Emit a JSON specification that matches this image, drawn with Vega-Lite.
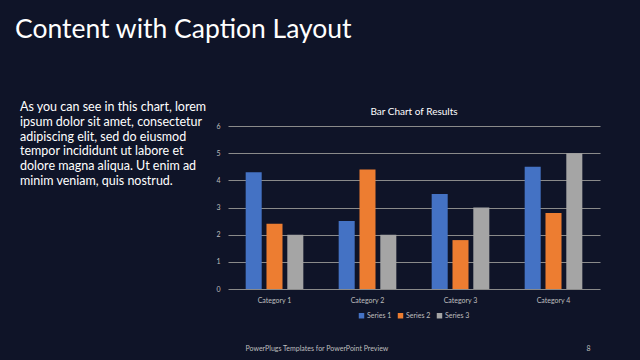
{
  "$schema": "https://vega.github.io/schema/vega-lite/v6.json",
  "background": "#0f1428",
  "padding": {"left": 15, "top": 16, "right": 45, "bottom": 10},
  "title": {"text": "Content with Caption Layout", "anchor": "start", "font": "Lato", "fontSize": 26.5, "fontWeight": "normal", "color": "#ffffff", "offset": 58},
  "spacing": 8,
  "hconcat": [
    {
      "width": 190,
      "height": 74,
      "data": {"values": [
        {"line": 1, "pos": 0, "text": "As you can see in this chart, lorem"},
        {"line": 2, "pos": 0, "text": "ipsum dolor sit amet, consectetur"},
        {"line": 3, "pos": 0, "text": "adipiscing elit, sed do eiusmod"},
        {"line": 4, "pos": 0, "text": "tempor incididunt ut labore et"},
        {"line": 5, "pos": 0, "text": "dolore magna aliqua. Ut enim ad"},
        {"line": 6, "pos": 0, "text": "minim veniam, quis nostrud."}
      ]},
      "mark": {"type": "text", "align": "left", "baseline": "middle", "font": "Lato", "fontSize": 12.5, "color": "#ffffff", "dx": 5, "dy": -19},
      "encoding": {
        "x": {"field": "pos", "type": "quantitative", "axis": null, "scale": {"domain": [0, 1]}},
        "y": {"field": "line", "type": "quantitative", "axis": null, "scale": {"domain": [1, 6], "reverse": true, "nice": false, "zero": false}},
        "text": {"field": "text"}
      }
    },
    {
      "width": 372,
      "height": 163,
      "title": {"text": "Bar Chart of Results", "font": "Lato", "fontSize": 10, "fontWeight": "normal", "color": "#ffffff", "offset": 5},
      "data": {"values": [
        {"category": "Category 1", "series": "Series 1", "value": 4.3},
        {"category": "Category 1", "series": "Series 2", "value": 2.4},
        {"category": "Category 1", "series": "Series 3", "value": 2},
        {"category": "Category 2", "series": "Series 1", "value": 2.5},
        {"category": "Category 2", "series": "Series 2", "value": 4.4},
        {"category": "Category 2", "series": "Series 3", "value": 2},
        {"category": "Category 3", "series": "Series 1", "value": 3.5},
        {"category": "Category 3", "series": "Series 2", "value": 1.8},
        {"category": "Category 3", "series": "Series 3", "value": 3},
        {"category": "Category 4", "series": "Series 1", "value": 4.5},
        {"category": "Category 4", "series": "Series 2", "value": 2.8},
        {"category": "Category 4", "series": "Series 3", "value": 5}
      ]},
      "mark": {"type": "bar"},
      "encoding": {
        "x": {"field": "category", "type": "nominal", "scale": {"paddingInner": 0.38, "paddingOuter": 0.19},
          "axis": {"title": "PowerPlugs Templates for PowerPoint  Preview", "titleAnchor": "start", "titleX": 17, "titleY": 59, "titleBaseline": "middle", "titleFont": "Lato", "titleFontSize": 7, "titleFontWeight": "normal", "titleColor": "#bfbfbf",
            "labelAngle": 0, "labelFont": "Lato", "labelFontSize": 7, "labelColor": "#bfbfbf", "labelPadding": 7, "ticks": false, "domain": false}},
        "xOffset": {"field": "series", "type": "nominal", "scale": {"paddingInner": 0.23}},
        "y": {"field": "value", "type": "quantitative", "scale": {"domain": [0, 6], "nice": false},
          "axis": {"values": [0, 1, 2, 3, 4, 5, 6], "title": "8", "titleAngle": 0, "titleX": 360, "titleY": 222, "titleAlign": "center", "titleBaseline": "middle", "titleFont": "Lato", "titleFontSize": 7, "titleFontWeight": "normal", "titleColor": "#bfbfbf",
            "labelFont": "Lato", "labelFontSize": 7, "labelColor": "#bfbfbf", "labelPadding": 8, "ticks": false, "domain": false, "grid": true, "gridColor": "#8a8a8a", "gridWidth": 1}},
        "color": {"field": "series", "type": "nominal", "scale": {"range": ["#4472c4", "#ed7d31", "#a5a5a5"]},
          "legend": {"title": null, "orient": "none", "legendX": 130, "legendY": 186, "direction": "horizontal", "symbolType": "square", "symbolSize": 30, "symbolStrokeWidth": 0, "labelFont": "Lato", "labelFontSize": 7, "labelColor": "#bfbfbf", "labelOffset": 2, "columnPadding": 5}}
      }
    }
  ],
  "resolve": {"legend": {"color": "independent"}},
  "config": {"view": {"stroke": null}}
}
